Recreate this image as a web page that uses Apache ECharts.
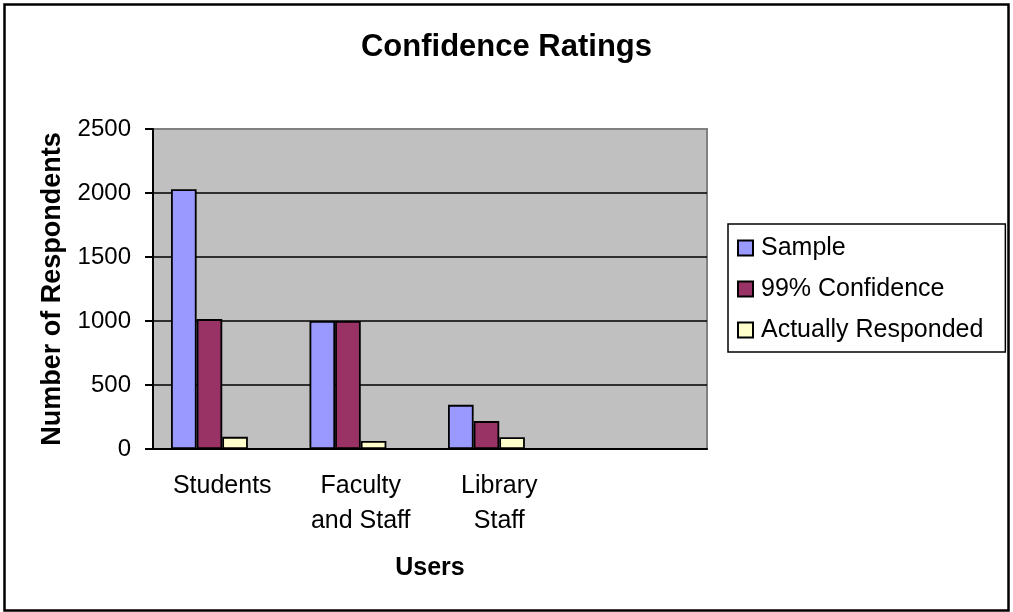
<!DOCTYPE html>
<html lang="en">
<head>
  <meta charset="UTF-8">
  <title>Confidence Ratings</title>
  <script src="https://cdn.jsdelivr.net/npm/echarts@6/dist/echarts.min.js"></script>
  <style>
    html, body { margin: 0; padding: 0; background: #fff; }
  </style>
</head>
<body>
<div id="chart" style="width: 1013px;height: 612px"></div>
<script>
  var categories = ['Students', 'Faculty\nand Staff', 'Library\nStaff', ''];
  var sample = [2030, 1000, 345, null];
  var confidence99 = [1015, 1000, 218, null];
  var responded = [95, 62, 92, null];
  // excel keeps an empty fourth slot in each group
  var emptySlot = [null, null, null, null];
  var yTicks = [0, 500, 1000, 1500, 2000, 2500];

  var font = "'Liberation Sans', Arial, sans-serif";
  var chart = echarts.init(document.getElementById('chart'));

  var barBorder = { borderColor: '#000', borderWidth: 1.8 };

  var option = {
    animation: false,
    backgroundColor: '#fff',
    title: {
      text: 'Confidence Ratings',
      left: 'center',
      top: 27,
      textStyle: { fontFamily: font, fontSize: 31, fontWeight: 'bold', color: '#000' }
    },
    legend: {
      orient: 'vertical',
      left: 728,
      top: 224,
      padding: [10, 22, 8, 9],
      itemGap: 13,
      itemWidth: 15,
      itemHeight: 15,
      icon: 'rect',
      borderColor: '#000',
      borderWidth: 1.5,
      textStyle: { fontFamily: font, fontSize: 25, color: '#000', lineHeight: 28, padding: [0, 0, 0, 3] },
      data: ['Sample', '99% Confidence', 'Actually Responded']
    },
    grid: {
      left: 153,
      right: 306,
      top: 129,
      bottom: 163,
      show: true,
      backgroundColor: '#c0c0c0',
      borderColor: '#808080',
      borderWidth: 2
    },
    xAxis: {
      type: 'category',
      data: categories,
      name: 'Users',
      nameLocation: 'middle',
      nameGap: 107,
      nameTextStyle: { fontFamily: font, fontSize: 25, fontWeight: 'bold', color: '#000' },
      axisLine: { lineStyle: { color: '#000', width: 2 } },
      axisTick: { length: 8, lineStyle: { color: '#000', width: 2 } },
      axisLabel: { fontFamily: font, fontSize: 25, color: '#000', lineHeight: 35, margin: 20, interval: 0 },
      splitLine: { show: false }
    },
    yAxis: {
      type: 'value',
      min: yTicks[0],
      max: yTicks[yTicks.length - 1],
      interval: yTicks[1] - yTicks[0],
      name: 'Number of Respondents',
      nameLocation: 'middle',
      nameGap: 87,
      nameTextStyle: { fontFamily: font, fontSize: 27, fontWeight: 'bold', color: '#000' },
      axisLine: { show: true, lineStyle: { color: '#000', width: 2 } },
      axisTick: { show: true, length: 8, lineStyle: { color: '#000', width: 2 } },
      axisLabel: {
        fontFamily: font, fontSize: 24, color: '#000', margin: 22,
        formatter: function (v) { return String(v); }
      },
      splitLine: {
        show: true,
        lineStyle: { color: ['#000', '#000', '#000', '#000', '#000', '#808080'], width: 1.5 }
      }
    },
    series: [
      {
        name: 'Sample',
        type: 'bar',
        data: sample,
        barGap: '0%',
        barCategoryGap: '26%',
        itemStyle: Object.assign({ color: '#9999ff' }, barBorder)
      },
      {
        name: '99% Confidence',
        type: 'bar',
        data: confidence99,
        itemStyle: Object.assign({ color: '#993366' }, barBorder)
      },
      {
        name: 'Actually Responded',
        type: 'bar',
        data: responded,
        itemStyle: Object.assign({ color: '#ffffcc' }, barBorder)
      },
      {
        name: 'empty',
        type: 'bar',
        data: emptySlot,
        silent: true
      }
    ],
    graphic: [
      {
        type: 'rect',
        z: 100,
        silent: true,
        shape: { x: 4.5, y: 4.5, width: 1004, height: 606 },
        style: { fill: 'none', stroke: '#000', lineWidth: 2.5 }
      }
    ]
  };

  chart.setOption(option);
</script>
</body>
</html>
